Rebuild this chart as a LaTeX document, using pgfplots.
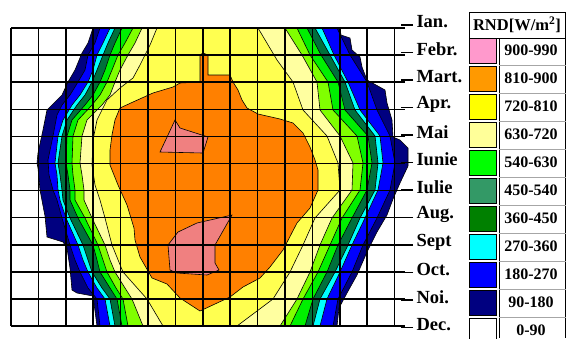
\documentclass[border=0pt]{standalone}
\usepackage{pgfplots}
\pgfplotsset{compat=1.18}
\usepackage{fontspec}
\setmainfont{Liberation Serif}
\definecolor{cNavy}{HTML}{000080}
\definecolor{cBlue}{HTML}{0000FF}
\definecolor{cCyan}{HTML}{00FFFF}
\definecolor{cDkGreen}{HTML}{00703C}
\definecolor{cGreen}{HTML}{00F000}
\definecolor{cLime}{HTML}{80FF00}
\definecolor{cLtYellow}{HTML}{FFFFA0}
\definecolor{cYellow}{HTML}{FFFF50}
\definecolor{cOrange}{HTML}{FF8000}
\definecolor{cPink}{HTML}{F08080}
\definecolor{lPink}{HTML}{FF99CC}
\definecolor{lOrange}{HTML}{FF9900}
\definecolor{lYellow}{HTML}{FFFF00}
\definecolor{lLtYellow}{HTML}{FFFF99}
\definecolor{lGreen}{HTML}{00FF00}
\definecolor{lSea}{HTML}{339966}
\definecolor{lDkGreen}{HTML}{008000}
\definecolor{lCyan}{HTML}{00FFFF}
\definecolor{lBlue}{HTML}{0000FF}
\definecolor{lNavy}{HTML}{000080}
\pgfplotsset{
  swatch/.style={legend image code/.code={\draw[fill=#1,draw=black,line width=1pt] (0pt,-12.5pt) rectangle (27pt,12.5pt);}},
  band/.style={fill=#1, draw=black, line width=0.6pt},
}
\newcommand{\lf}{\bfseries\fontsize{18.5}{18.5}\selectfont}
\begin{document}
\begin{tikzpicture}
\begin{axis}[
  at={(11pt,-28pt)}, anchor=north west,
  x=1pt, y=1pt, y dir=reverse,
  xmin=11, xmax=405, ymin=28, ymax=326.1,
  axis line style={draw=none},
  xtick={11,38.4,65.8,93.2,120.6,148,175.4,202.8,230.2,257.6,285,312.4,339.8,367.2,394.6},
  ytick={28,55.1,82.2,109.3,136.4,163.5,190.6,217.7,244.8,271.9,299,326.1},
  xticklabels={}, yticklabels={},
  major tick length=0pt,
  grid=major,
  major grid style={black, line width=1.5pt},
  axis on top,
  clip=false,
  reverse legend,
  legend cell align=left,
  legend style={at={(1.16244,0.96644)}, anchor=north west, draw=none, fill=none,
    inner sep=0pt, outer sep=0pt, row sep=2pt, column sep=3pt,
    font=\bfseries\fontsize{16}{16}\selectfont,
    nodes={inner sep=0pt, text width=62pt, align=center}},
]
% 0-90 background
\addplot[fill=white, draw=none, swatch=white] coordinates {(11,28) (405,28) (405,326.1) (11,326.1)} --cycle;
\addlegendentry{0-90}
% 90-180
\addplot[band=cNavy, swatch=lNavy] coordinates {
(93,28) (88,43) (82,53) (75,70) (68,82) (62,95) (52,105) (47,110) (43,130) (38,153) (37,163) (38,168) (40,190) (45,216) (47,237) (63,242) (67,248) (70,268) (72,290) (77,293) (93,296) (97,326)
(337,326) (339,308) (347,293) (357,275) (367,252) (377,232) (387,215) (393,199) (400,183) (408,166) (408,148) (400,140) (393,137) (392,120) (387,103) (385,90) (376,85) (367,80) (362,67) (360,57) (352,50) (350,38) (341,35) (340,28)} --cycle;
\addlegendentry{90-180}
% 180-270
\addplot[band=cBlue, swatch=lBlue] coordinates {
(100,28) (95,43) (88,55) (85,70) (78,82) (70,95) (62,105) (57,115) (53,136) (48,160) (49,175) (53,190) (57,200) (62,218) (70,245) (75,260) (80,272) (88,288) (97,299) (100,326)
(333,326) (338,299) (352,272) (363,245) (377,218) (390,190) (395,163) (390,136) (377,110) (367,82) (350,55) (337,28)} --cycle;
\addlegendentry{180-270}
% 270-360
\addplot[band=cCyan, swatch=lCyan] coordinates {
(110,28) (103,43) (97,55) (93,70) (88,82) (80,95) (72,105) (63,120) (58,136) (55,163) (57,175) (58,190) (60,200) (66,218) (78,245) (83,260) (88,272) (97,288) (105,299) (110,326)
(320,326) (327,299) (340,272) (352,245) (365,218) (378,190) (383,163) (380,136) (360,110) (348,82) (334,55) (322,28)} --cycle;
\addlegendentry{270-360}
% 360-450
\addplot[band=cDkGreen, swatch=lDkGreen] coordinates {
(115,28) (108,43) (103,55) (97,70) (92,82) (85,95) (77,105) (67,120) (62,136) (58,163) (60,175) (62,190) (63,200) (70,218) (83,245) (88,260) (92,272) (102,288) (110,299) (115,326)
(313,326) (320,299) (335,272) (348,245) (360,218) (375,190) (378,163) (375,136) (355,110) (345,82) (330,55) (315,28)} --cycle;
\addlegendentry{360-450}
% 450-540
\addplot[band=cGreen, swatch=lSea] coordinates {
(122,28) (115,43) (110,55) (105,70) (100,82) (93,95) (85,105) (72,120) (67,136) (66,163) (68,175) (70,190) (70,200) (78,218) (93,245) (97,260) (100,272) (110,288) (117,299) (122,326)
(305,326) (313,299) (327,272) (338,245) (352,218) (367,190) (372,163) (368,136) (345,110) (338,82) (321,55) (307,28)} --cycle;
\addlegendentry{450-540}
% 540-630
\addplot[band=cLime, swatch=lGreen] coordinates {
(133,28) (125,43) (118,55) (112,70) (107,82) (100,95) (92,105) (78,120) (73,136) (72,163) (73,175) (75,190) (75,200) (85,218) (98,245) (103,260) (107,272) (116,288) (123,299) (128,326)
(290,326) (303,299) (318,272) (330,245) (342,218) (360,190) (363,163) (357,136) (333,110) (328,82) (310,55) (297,28)} --cycle;
\addlegendentry{540-630}
% 630-720
\addplot[band=cLtYellow, swatch=lLtYellow] coordinates {
(142,28) (135,43) (128,55) (120,70) (115,82) (110,95) (102,105) (87,120) (82,136) (80,163) (82,175) (84,190) (84,200) (92,218) (105,245) (110,260) (115,272) (125,288) (132,299) (143,326)
(280,326) (297,299) (310,272) (320,245) (332,218) (352,190) (353,163) (340,136) (320,110) (317,82) (302,55) (285,28)} --cycle;
\addlegendentry{630-720}
% 720-810
\addplot[band=cYellow, swatch=lYellow] coordinates {
(157,28) (150,45) (140,65) (133,78) (120,88) (107,100) (97,120) (93,140) (92,165) (95,185) (100,200) (105,218) (112,245) (123,272) (147,299) (163,326)
(237,326) (273,299) (290,272) (303,245) (315,218) (340,190) (338,163) (327,136) (303,110) (293,82) (277,60) (258,28)} --cycle;
\addlegendentry{720-810}
% 810-900
\addplot[band=cOrange, swatch=lOrange] coordinates {
(120,108) (133,102) (153,93) (173,87) (180,83) (200,82) (200,55) (203,53) (208,55) (208,75) (230,75) (233,82) (238,90) (242,100) (247,108) (258,114) (280,119) (293,123) (303,133) (310,147) (315,160) (318,170) (318,190) (310,208) (297,223) (283,250) (270,267) (260,278) (243,287) (230,297) (200,311) (180,298) (167,284) (152,278) (140,257) (135,240) (134,228) (127,205) (118,185) (110,165) (110,150) (112,135) (115,120)} --cycle;
\addlegendentry{810-900}
% 900-990
\addplot[band=cPink, swatch=lPink] coordinates {
(175,120) (180,128) (208,137) (203,153) (160,152) (168,135)} --cycle;
\addlegendentry{900-990}
\addplot[band=cPink, forget plot] coordinates {
(232,215) (197,223) (178,232) (168,245) (170,270) (177,273) (207,275) (219,270) (215,263) (215,245)} --cycle;
\end{axis}
\begin{axis}[
  at={(11pt,-25pt)}, anchor=north west,
  x=1pt, y=1pt, y dir=reverse,
  xmin=11, xmax=401, ymin=25, ymax=327.5,
  axis line style={draw=none},
  xtick=\empty,
  ytick={25,52.5,80,107.5,135,162.5,190,217.5,245,272.5,300,327.5},
  yticklabels={Ian.,Febr.,Mart.,Apr.,Mai,Iunie,Iulie,Aug.,Sept,Oct.,Noi.,Dec.},
  ytick pos=right, yticklabel pos=right,
  tick align=outside, major tick length=12pt,
  tick style={black, line width=1.2pt},
  yticklabel style={font=\lf, anchor=west, yshift=3pt},
  clip=false,
]
\addplot[draw=none, forget plot] coordinates {(11,25) (401,327.5)};
\end{axis}
% legend table frame
\draw[black, line width=1pt] (469pt,-12pt) rectangle (565.5pt,-38pt);
\node[font=\bfseries\fontsize{16.5}{16.5}\selectfont] at (517pt,-25pt) {RND[W/m\textsuperscript{2}]};
\draw[black, line width=1pt] (499pt,-38pt) -- (499pt,-338pt);
\draw[black, line width=1pt] (565.5pt,-38pt) -- (565.5pt,-338pt);
\foreach \k in {1,...,10} {
  \draw[gray!70, line width=0.8pt] (499pt,{-(37+28*\k)*1pt}) -- (565.5pt,{-(37+28*\k)*1pt});
}
\pgfresetboundingbox
\path[use as bounding box] (0pt,0pt) rectangle (567pt,-338pt);
\end{tikzpicture}
\end{document}
